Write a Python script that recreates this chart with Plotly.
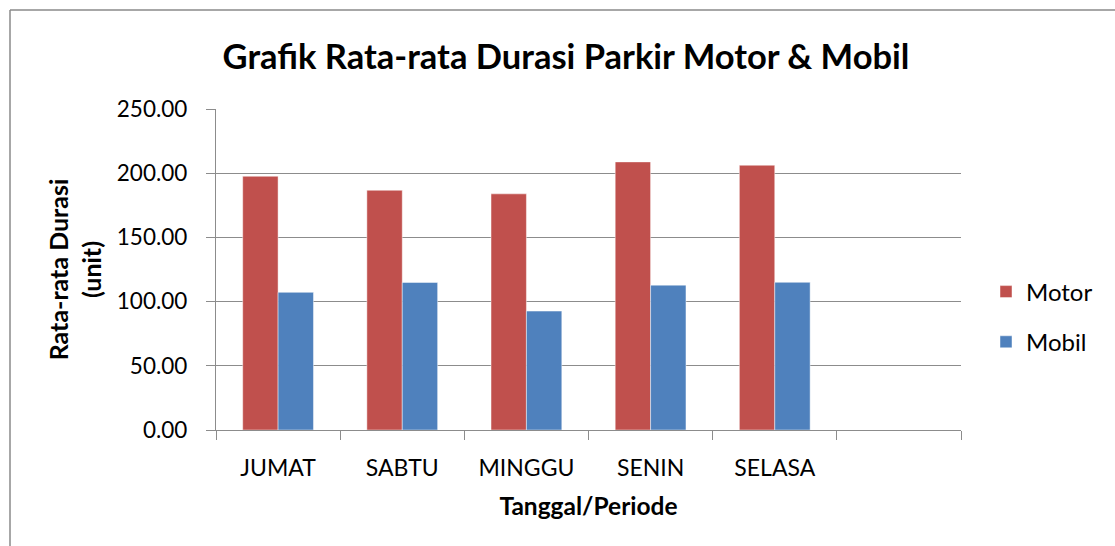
import plotly.graph_objects as go

# Average parking duration per day, motorcycles vs cars
days = ["JUMAT", "SABTU", "MINGGU", "SENIN", "SELASA"]
motor = [197.6, 186.7, 183.9, 208.8, 206.2]
mobil = [107.2, 114.9, 92.6, 112.8, 115.0]

FONT = "Lato"
GRID = "#8c8c8c"
positions = list(range(len(days)))
n_slots = len(days) + 1  # axis reserves one extra empty slot on the right

fig = go.Figure()
fig.add_trace(go.Bar(
    name="Motor", x=positions, y=motor,
    marker=dict(color="#C0504D", line=dict(color="rgba(255,255,255,0.45)", width=1)),
    legendgroup="motor",
))
fig.add_trace(go.Bar(
    name="Mobil", x=positions, y=mobil,
    marker=dict(color="#4F81BD", line=dict(color="rgba(255,255,255,0.45)", width=1)),
    legendgroup="mobil",
))

L, R, T, B = 216, 154, 109, 116
W, H = 1115, 546
pw, ph = W - L - R, H - T - B


def px_x(v):
    return (v - L) / pw


def px_y(v):
    return (H - B - v) / ph


fig.update_layout(
    width=W, height=H,
    margin=dict(l=L, r=R, t=T, b=B),
    paper_bgcolor="white",
    plot_bgcolor="white",
    font=dict(family=FONT, color="black", size=22),
    barmode="group",
    bargap=0.43,
    bargroupgap=0.0,
    title=dict(
        text="<b>Grafik Rata-rata Durasi Parkir Motor &amp; Mobil</b>",
        x=566 / W, xanchor="center", xref="container",
        y=1 - 57 / H, yanchor="middle", yref="container",
        font=dict(family=FONT, size=34.5, color="black"),
    ),
    xaxis=dict(
        range=[-0.5, n_slots - 0.5],
        tickmode="array", tickvals=positions, ticktext=days,
        ticks="", showgrid=False,
        showline=True, linecolor=GRID, linewidth=1.3,
        tickfont=dict(family=FONT, size=23),
        ticklabelstandoff=17,
        minor=dict(
            tickmode="array",
            tickvals=[i - 0.5 for i in range(n_slots + 1)],
            ticks="outside", ticklen=9, tickcolor=GRID, tickwidth=1.3,
            showgrid=False,
        ),
        title=dict(text="<b>Tanggal/Periode</b>", font=dict(family=FONT, size=24.5), standoff=18),
        zeroline=False,
        fixedrange=True,
    ),
    yaxis=dict(
        range=[0, 250], dtick=50, tickformat=".2f",
        ticks="outside", ticklen=9, tickcolor=GRID, tickwidth=1.3,
        showgrid=True, gridcolor=GRID, gridwidth=1.3,
        showline=True, linecolor=GRID, linewidth=1.3,
        zeroline=False,
        tickfont=dict(family=FONT, size=22.5),
        ticklabelstandoff=14,
        title=dict(text="<b>Rata-rata Durasi<br>(unit)</b>", font=dict(family=FONT, size=25), standoff=8),
    ),
    legend=dict(
        x=px_x(986), xanchor="left",
        y=px_y(317), yanchor="middle",
        font=dict(family=FONT, size=24),
        itemwidth=30,
        tracegroupgap=16,
        bgcolor="rgba(0,0,0,0)",
    ),
    shapes=[
        # chart frame: top and left edges
        dict(type="line", xref="paper", yref="paper",
             x0=px_x(10), x1=px_x(W + 5), y0=px_y(10), y1=px_y(10),
             line=dict(color="#8a8a8a", width=1.5)),
        dict(type="line", xref="paper", yref="paper",
             x0=px_x(10), x1=px_x(10), y0=px_y(10), y1=px_y(H + 5),
             line=dict(color="#8a8a8a", width=1.5)),
    ],
)

fig.write_html("out.html")
